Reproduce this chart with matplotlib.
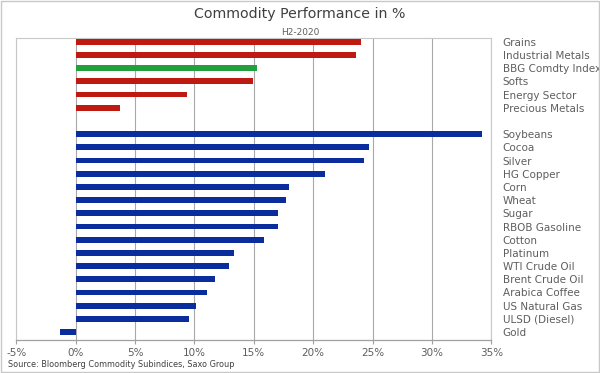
import matplotlib
matplotlib.use("Agg")
import matplotlib.pyplot as plt
from matplotlib.patches import Rectangle
import numpy as np

# sector level, top group
sectors = ["Grains", "Industrial Metals", "BBG Comdty Index", "Softs",
           "Energy Sector", "Precious Metals"]
sector_vals = [24.0, 23.6, 15.3, 14.9, 9.4, 3.7]

# single commodities, bottom group
commods = ["Soybeans", "Cocoa", "Silver", "HG Copper", "Corn", "Wheat", "Sugar",
           "RBOB Gasoline", "Cotton", "Platinum", "WTI Crude Oil", "Brent Crude Oil",
           "Arabica Coffee", "US Natural Gas", "ULSD (Diesel)", "Gold"]
commod_vals = [34.2, 24.7, 24.3, 21.0, 18.0, 17.7, 17.05, 17.0, 15.9, 13.3, 12.9,
               11.7, 11.05, 10.1, 9.55, -1.3]

xticks = [-5, 0, 5, 10, 15, 20, 25, 30, 35]

red = "#BE1A12"
green = "#22A03C"
blue = "#0B2C9C"
txt = "#5E5E5E"

fig = plt.figure(figsize=(6, 3.73), dpi=100)
ax = fig.add_axes([0.027, 0.0885, 0.792, 0.81])

# positions: 6 sector bars, one empty slot, then the commodities
pos1 = np.arange(len(sectors))
pos2 = np.arange(len(commods)) + len(sectors) + 1
cols = [green if s.startswith("BBG") else red for s in sectors]

ax.barh(pos1, sector_vals, height=0.44, color=cols, zorder=3)
ax.barh(pos2, commod_vals, height=0.44, color=blue, zorder=3)

ax.set_xlim(-5, 35)
ax.set_ylim(22.6, -0.3)
ax.set_xticks(xticks)
ax.set_xticklabels([f"{t}%" for t in xticks], fontsize=7.5, color=txt)
ax.tick_params(axis="x", length=3, color="#A0A0A0", pad=3)

ax.set_yticks(list(pos1) + list(pos2))
ax.set_yticklabels(sectors + commods, fontsize=7.5, color=txt)
ax.yaxis.tick_right()
ax.tick_params(axis="y", length=0, pad=8)
for lab in ax.get_yticklabels():
    lab.set_horizontalalignment("left")

ax.grid(axis="x", color="#A8A8A8", linewidth=0.8, zorder=0)
for sp in ["left", "top", "right"]:
    ax.spines[sp].set_color("#C8C8C8")
    ax.spines[sp].set_linewidth(0.8)
ax.spines["bottom"].set_color("#A0A0A0")
ax.spines["bottom"].set_linewidth(0.9)

fig.text(0.5, 0.962, "Commodity Performance in %", ha="center", va="center",
         fontsize=10.2, color="#404040")
fig.text(0.5, 0.912, "H2-2020", ha="center", va="center", fontsize=6.5, color=txt)
fig.text(0.014, 0.016, "Source: Bloomberg Commodity Subindices, Saxo Group",
         fontsize=6.5, color="#404040", fontstretch="condensed")

# thin frame around the whole picture
fig.patches.append(Rectangle((0.002, 0.003), 0.996, 0.994, transform=fig.transFigure,
                             fill=False, edgecolor="#C8C8C8", linewidth=1))

fig.savefig("out.png", dpi=100)
